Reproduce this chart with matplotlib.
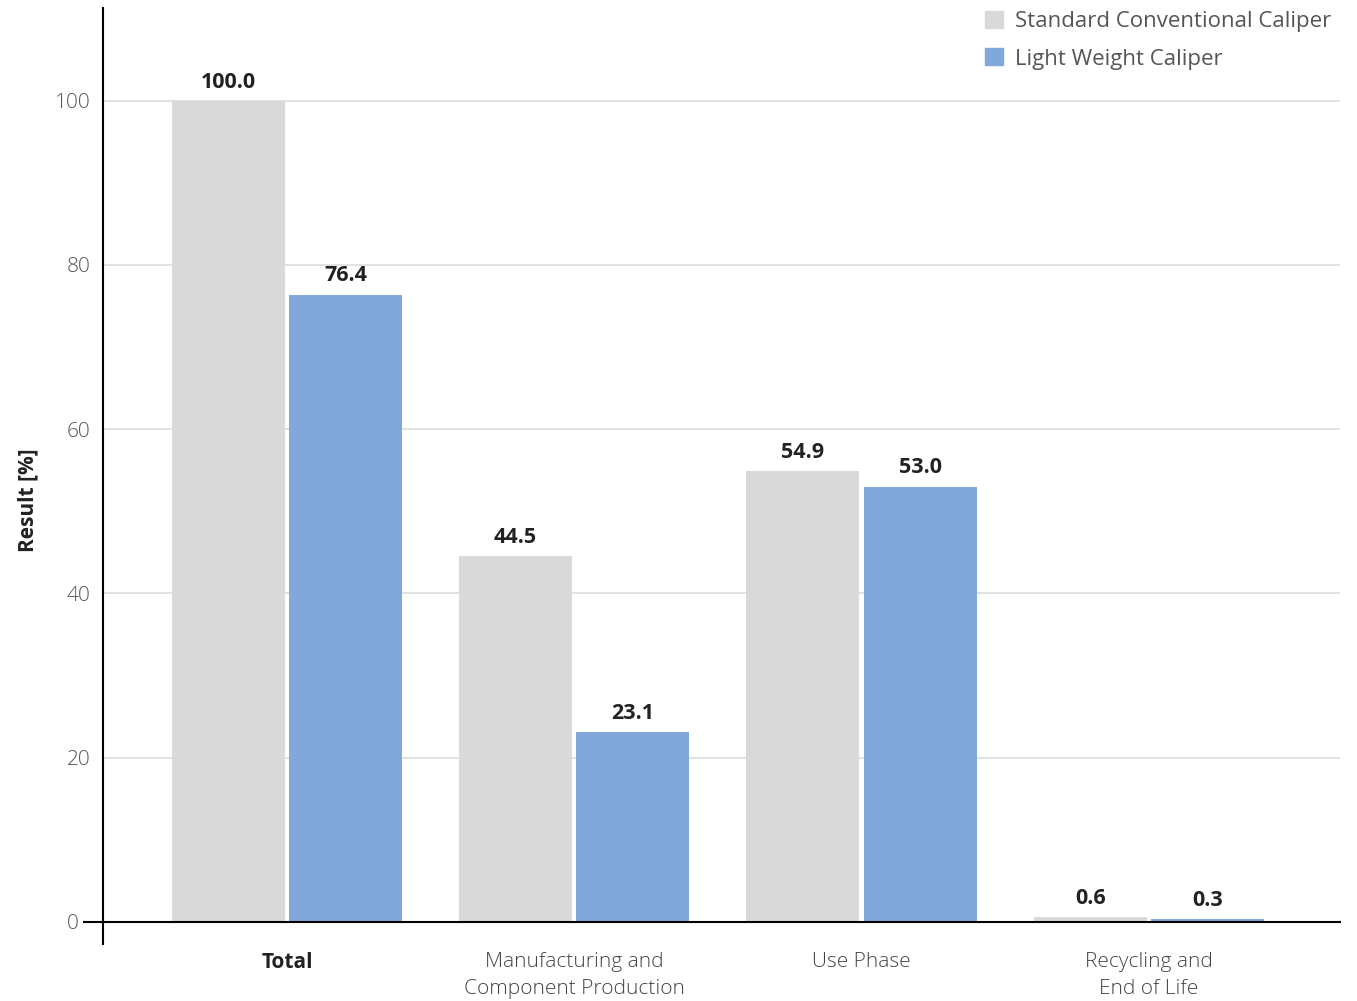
import matplotlib
matplotlib.use("Agg")
import matplotlib.pyplot as plt
from matplotlib.patches import Patch
from matplotlib.transforms import ScaledTranslation
import numpy as np

categories = ["Total", "Manufacturing and\nComponent Production", "Use Phase", "Recycling and\nEnd of Life"]
standard = [100.0, 44.5, 54.9, 0.6]
lightweight = [76.4, 23.1, 53.0, 0.3]
series_names = ["Standard Conventional Caliper", "Light Weight Caliper"]
yticks = [0, 20, 40, 60, 80, 100]

plt.rcParams['font.family'] = ['Open Sans', 'DejaVu Sans']

W, H = 1357, 1001
fig = plt.figure(figsize=(W / 100, H / 100), dpi=100)
ax = fig.add_axes([103 / W, (H - 944) / H, (1340 - 103) / W, (944 - 8) / H])

gray = "#d9d9d9"
blue = "#80a8da"
x = np.arange(len(categories))
bw = 0.393
off = 0.204

b1 = ax.bar(x - off, standard, bw, color=gray, zorder=2)
b2 = ax.bar(x + off, lightweight, bw, color=blue, zorder=2)

for bars, vals in ((b1, standard), (b2, lightweight)):
    for r, v in zip(bars, vals):
        ax.text(r.get_x() + r.get_width() / 2, v + 1.0, f"{v:.1f}", ha="center", va="bottom",
                fontsize=15.5, fontweight="bold", color="#222222")

ax.set_xlim(-0.640, 3.665)
ax.set_ylim(-2.7, 111.3)

for t in yticks[1:]:
    ax.axhline(t, color="#dddddd", lw=1.2, zorder=1)
ax.axhline(0, xmin=-0.0154, xmax=1.0, color="black", lw=1.5, zorder=3, clip_on=False)

ax.set_yticks(yticks)
ax.set_yticklabels([str(t) for t in yticks], fontsize=15, color="#555555", fontweight="light")
ax.tick_params(axis="y", length=0, pad=9)
ylbls = ax.get_yticklabels()
ylbls[0].set_transform(ylbls[0].get_transform() + ScaledTranslation(-12 / 100, 0, fig.dpi_scale_trans))

ax.set_xticks(x)
ax.set_xticklabels(categories, fontsize=15, color="#444444", fontweight="light", linespacing=1.45)
ax.tick_params(axis="x", length=0, pad=6)
lbls = ax.get_xticklabels()
lbls[0].set_fontweight("bold")
lbls[0].set_color("#222222")

for s in ("top", "right", "bottom"):
    ax.spines[s].set_visible(False)
ax.spines["left"].set_linewidth(1.5)
ax.spines["left"].set_color("black")

fig.text(28 / W, 1 - 500 / H, "Result [%]", rotation=90, ha="center", va="center",
         fontsize=15, fontweight="bold", color="#222222")

handles = [Patch(color=gray), Patch(color=blue)]
fig.legend(handles, series_names, loc="upper right", bbox_to_anchor=(1340 / W, 1 - 2 / H),
           frameon=False, fontsize=16, handlelength=0.8, handleheight=0.8, handletextpad=0.55,
           labelspacing=0.73, labelcolor="#555555", borderaxespad=0)

fig.savefig("out.png", dpi=100)
